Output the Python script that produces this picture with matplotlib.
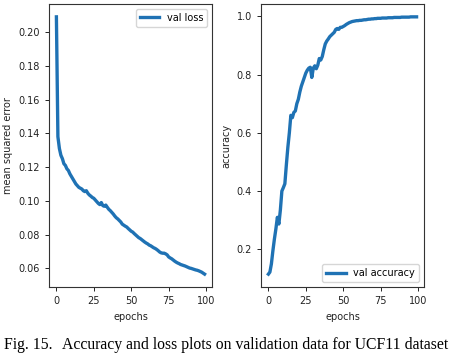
import numpy as np
import matplotlib.pyplot as plt

epochs = np.arange(100)

val_loss = [
    0.209, 0.138, 0.131, 0.127, 0.125, 0.122, 0.121, 0.119, 0.118, 0.116,
    0.1145, 0.113, 0.1115, 0.110, 0.109, 0.108, 0.1075, 0.107, 0.106, 0.1055,
    0.1060, 0.1045, 0.1035, 0.1028, 0.1020, 0.1015, 0.1005, 0.0995, 0.0985, 0.0978,
    0.0990, 0.0972, 0.0968, 0.0975, 0.0962, 0.0950, 0.0942, 0.0932, 0.0922, 0.0910,
    0.0900, 0.0893, 0.0884, 0.0875, 0.0862, 0.0856, 0.0850, 0.0845, 0.0836, 0.0828,
    0.0820, 0.0815, 0.0806, 0.0798, 0.0790, 0.0782, 0.0777, 0.0770, 0.0763, 0.0756,
    0.0750, 0.0745, 0.0738, 0.0734, 0.0728, 0.0722, 0.0718, 0.0712, 0.0705, 0.0697,
    0.0692, 0.0690, 0.0690, 0.0686, 0.0680, 0.0668, 0.0662, 0.0657, 0.0650, 0.0643,
    0.0637, 0.0632, 0.0628, 0.0623, 0.0620, 0.0617, 0.0614, 0.0610, 0.0606, 0.0602,
    0.0600, 0.0597, 0.0594, 0.0591, 0.0589, 0.0586, 0.0582, 0.0578, 0.0572, 0.0566,
]

val_acc = [
    0.115, 0.122, 0.150, 0.195, 0.235, 0.270, 0.310, 0.287, 0.335, 0.400,
    0.412, 0.425, 0.490, 0.550, 0.600, 0.660, 0.652, 0.670, 0.675, 0.700,
    0.715, 0.740, 0.760, 0.775, 0.790, 0.805, 0.815, 0.822, 0.825, 0.790,
    0.822, 0.830, 0.820, 0.832, 0.855, 0.850, 0.862, 0.885, 0.905, 0.915,
    0.922, 0.930, 0.935, 0.940, 0.945, 0.955, 0.958, 0.955, 0.962, 0.962,
    0.965, 0.968, 0.972, 0.975, 0.978, 0.980, 0.982, 0.983, 0.984, 0.985,
    0.985, 0.986, 0.986, 0.987, 0.988, 0.988, 0.989, 0.990, 0.990, 0.991,
    0.991, 0.992, 0.992, 0.993, 0.993, 0.993, 0.994, 0.994, 0.994, 0.994,
    0.995, 0.995, 0.995, 0.995, 0.996, 0.996, 0.996, 0.996, 0.996, 0.997,
    0.997, 0.997, 0.997, 0.997, 0.997, 0.998, 0.998, 0.998, 0.998, 0.998,
]

LINE_COLOR = '#1f72b4'
TXT = '#222222'

fig = plt.figure(figsize=(4.52, 3.63), dpi=100)

ax1 = fig.add_axes([0.1084, 0.2094, 0.3606, 0.7796])
ax2 = fig.add_axes([0.5774, 0.2094, 0.3606, 0.7796])

ax1.plot(epochs, val_loss, color=LINE_COLOR, linewidth=2.4, label='val loss')
ax1.set_ylabel('mean squared error', fontsize=7, color=TXT)
ax1.set_xlabel('epochs', fontsize=7, color=TXT)
ax1.set_yticks([0.06, 0.08, 0.10, 0.12, 0.14, 0.16, 0.18, 0.20])
ax1.legend(loc='upper right', fontsize=7)

ax2.plot(epochs, val_acc, color=LINE_COLOR, linewidth=2.4, label='val accuracy')
ax2.set_ylabel('accuracy', fontsize=7, color=TXT)
ax2.set_xlabel('epochs', fontsize=7, color=TXT)
ax2.set_yticks([0.2, 0.4, 0.6, 0.8, 1.0])
ax2.legend(loc='lower right', fontsize=7)

for ax in (ax1, ax2):
    ax.set_xticks([0, 25, 50, 75, 100])
    ax.tick_params(labelsize=7, labelcolor=TXT, length=3, width=0.6)
    for s in ax.spines.values():
        s.set_linewidth(0.8)
        s.set_color('#333333')

# caption below the two panels
fig.text(4 / 452, 1 - 345 / 363, 'Fig. 15.', family='Liberation Serif',
         fontsize=11.3, va='center', ha='left')
fig.text(62 / 452, 1 - 345 / 363,
         'Accuracy and loss plots on validation data for UCF11 dataset',
         family='Liberation Serif', fontsize=11.3, va='center', ha='left')

fig.savefig('out.png', dpi=100)
